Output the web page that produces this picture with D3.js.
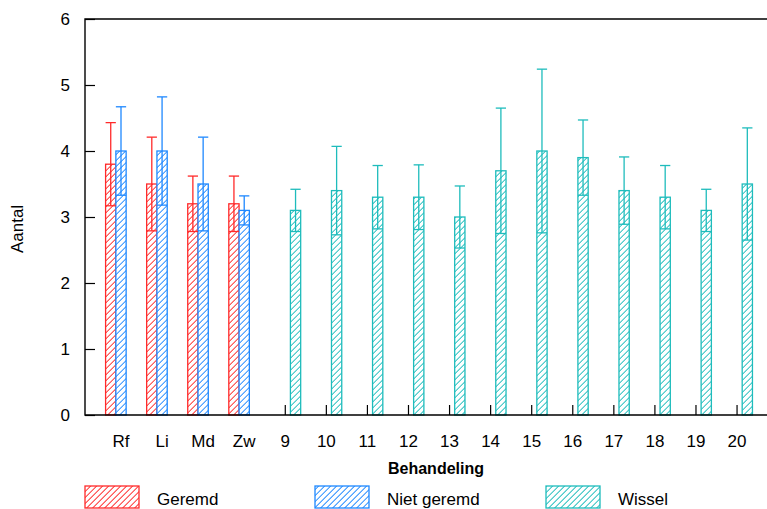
<!DOCTYPE html>
<html><head><meta charset="utf-8">
<script src="https://cdn.jsdelivr.net/npm/d3@7"></script>
<style>
html,body{margin:0;padding:0;background:#fff;}
svg{display:block;font-family:"Liberation Sans",Arial,Helvetica,sans-serif;}
</style></head>
<body><svg id="c" width="767" height="509"></svg>
<script>
const categories = ["Rf","Li","Md","Zw","9","10","11","12","13","14","15","16","17","18","19","20"];
const seriesNames = ["Geremd","Niet geremd","Wissel"];
const geremd      = [3.8, 3.5, 3.2, 3.2, null,null,null,null,null,null,null,null,null,null,null,null];
const geremdErr   = [0.63,0.71,0.42,0.42,null,null,null,null,null,null,null,null,null,null,null,null];
const nietGeremd    = [4.0, 4.0, 3.5, 3.1, null,null,null,null,null,null,null,null,null,null,null,null];
const nietGeremdErr = [0.67,0.82,0.71,0.22,null,null,null,null,null,null,null,null,null,null,null,null];
const wissel    = [null,null,null,null, 3.1, 3.4, 3.3, 3.3, 3.0, 3.7, 4.0, 3.9, 3.4, 3.3, 3.1, 3.5];
const wisselErr = [null,null,null,null, 0.32,0.67,0.48,0.49,0.47,0.95,1.24,0.57,0.51,0.48,0.32,0.85];
const yTicks = [0,1,2,3,4,5,6];
const colors = ["#ff2a2a","#1e88ff","#1ebcbc"];

(function(){
const svg = d3.select("#c");
const mLeft = 85, mTop = 19, mBottom = 415;
const step = 41.07;
const x = d3.scaleBand().domain(categories).range([121 - step/2, 121 - step/2 + step*categories.length]).padding(0);
const xs = d3.scaleBand().domain(seriesNames).range([0, x.bandwidth()]).paddingInner(0).paddingOuter(0.5);
const y = d3.scaleLinear().domain([0,6]).range([mBottom, mTop]);

const defs = svg.append("defs");
let clipId = 0;
function hatchBox(parent, bx, by, bw, bh, color){
  const id = "cl" + (clipId++);
  defs.append("clipPath").attr("id", id).append("rect")
    .attr("x",bx).attr("y",by).attr("width",bw).attr("height",bh);
  const g = parent.append("g");
  g.append("rect").attr("x",bx).attr("y",by).attr("width",bw).attr("height",bh).attr("fill","#fff");
  const hg = g.append("g").attr("clip-path",`url(#${id})`);
  const sp = 6, w = 1.3;
  const start = Math.floor((bx + by) / sp) * sp;
  let d = "";
  for (let k = start; k <= bx + bw + by + bh + sp; k += sp) {
    const yb = by + bh + 2, yt = by - 2;
    const xb = k - yb, xt = k - yt;
    d += `M${xb},${yb}L${xb + w},${yb}L${xt + w},${yt}L${xt},${yt}Z`;
  }
  hg.append("path").attr("d", d).style("fill", color).style("stroke","none");
  g.append("rect").attr("x",bx).attr("y",by).attr("width",bw).attr("height",bh)
    .style("fill","none").style("stroke",color).style("stroke-width",1.3);
}

svg.append("g").selectAll("line").data(categories).join("line")
  .attr("x1",d=>x(d)+x.bandwidth()/2).attr("x2",d=>x(d)+x.bandwidth()/2)
  .attr("y1",mBottom).attr("y2",mBottom-10).attr("stroke","#000").attr("stroke-width",1.2);

const yAxis = d3.axisLeft(y).tickValues(yTicks).tickSize(-10).tickPadding(15).tickFormat(d3.format("d"));
const gy = svg.append("g").attr("transform",`translate(${mLeft},0)`).call(yAxis);
gy.select(".domain").remove();
gy.selectAll(".tick line").attr("stroke","#000").attr("stroke-width",1.2);
gy.selectAll(".tick text").attr("font-size",17).attr("fill","#000").attr("font-family","Liberation Sans, Arial, sans-serif");

const series = [
  {name:"Geremd", vals:geremd, errs:geremdErr, ci:0},
  {name:"Niet geremd", vals:nietGeremd, errs:nietGeremdErr, ci:1},
  {name:"Wissel", vals:wissel, errs:wisselErr, ci:2}
];
const barLayer = svg.append("g");
series.forEach(s=>{
  const data = categories.map((c,i)=>({c, v:s.vals[i], e:s.errs[i]})).filter(d=>d.v!=null);
  const bw = xs.bandwidth();
  data.forEach(d=>{
    hatchBox(barLayer, x(d.c)+xs(s.name), y(d.v), bw, y(0)-y(d.v), colors[s.ci]);
  });
});
series.forEach(s=>{
  const data = categories.map((c,i)=>({c, v:s.vals[i], e:s.errs[i]})).filter(d=>d.v!=null);
  const bw = xs.bandwidth();
  const eg = svg.append("g").style("stroke",colors[s.ci]).style("stroke-width",1.3);
  data.forEach(d=>{
    const cx = x(d.c)+xs(s.name)+bw/2;
    eg.append("line").attr("x1",cx).attr("x2",cx).attr("y1",y(d.v-d.e)).attr("y2",y(d.v+d.e));
    eg.append("line").attr("x1",cx-bw/2).attr("x2",cx+bw/2).attr("y1",y(d.v+d.e)).attr("y2",y(d.v+d.e));
    eg.append("line").attr("x1",cx-bw/2).attr("x2",cx+bw/2).attr("y1",y(d.v-d.e)).attr("y2",y(d.v-d.e));
  });
});

svg.append("path").attr("d",`M800,${mTop}H${mLeft}V${mBottom}H800`).attr("fill","none")
  .attr("stroke","#000").attr("stroke-width",1.4);

svg.append("g").selectAll("text").data(categories).join("text")
  .attr("x",d=>x(d)+x.bandwidth()/2).attr("y",447).attr("text-anchor","middle")
  .attr("font-size",17).attr("fill","#000").text(d=>d);

svg.append("text").attr("x",436).attr("y",474).attr("text-anchor","middle")
  .attr("font-size",16).attr("font-weight","bold").text("Behandeling");
svg.append("text").attr("transform","translate(23,229) rotate(-90)").attr("text-anchor","middle")
  .attr("font-size",17).text("Aantal");

const legX = [85,315,546];
const legLayer = svg.append("g");
seriesNames.forEach((n,i)=>{
  hatchBox(legLayer, legX[i], 486, 54, 22, colors[i]);
  svg.append("text").attr("x",legX[i]+72).attr("y",505).attr("font-size",17).text(n);
});
})();
</script></body></html>
